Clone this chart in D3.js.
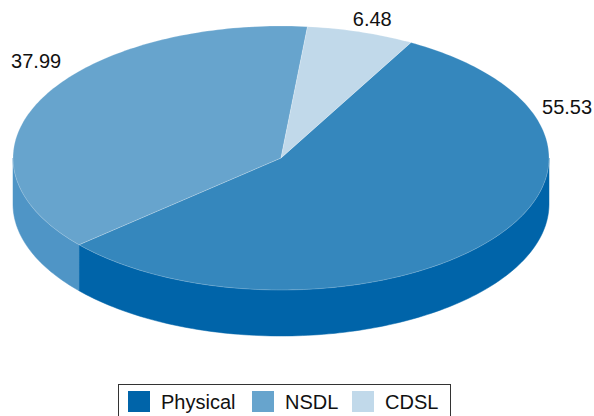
<!DOCTYPE html>
<html>
<head>
<meta charset="utf-8">
<script src="https://cdn.jsdelivr.net/npm/d3@7/dist/d3.min.js"></script>
<style>
  html, body { margin: 0; padding: 0; background: #fff; }
  svg { display: block; font-family: "Liberation Sans", Arial, Helvetica, sans-serif; }
</style>
</head>
<body>
<svg id="chart" width="594" height="416"></svg>
<script>
// Share of holdings by mode
const categories = ["Physical", "NSDL", "CDSL"];
const values = [55.53, 37.99, 6.48];
const labels = ["55.53", "37.99", "6.48"];

// Colours: top face, side wall, legend swatch
const topColors = ["#3587bd", "#67a4cd", "#c1d9ea"];
const sideColors = ["#0064a9", "#4f95c6", "#a9c9e0"];
const legendColors = ["#0064a9", "#67a4cd", "#c1d9ea"];

// Layout of the tilted disc
const cx = 281, cy = 158, rx = 268, ry = 132, depth = 46;
const startDeg = 29;
// Label baselines as fractions of the radii from the centre
const labelPlace = [
  { kx: 0.974,  ky: -0.333 },
  { kx: -1.007, ky: -0.682 },
  { kx: 0.268,  ky: -1.0 }
];

const svg = d3.select("#chart");
const topColor = d3.scaleOrdinal().domain(categories).range(topColors);
const sideColor = d3.scaleOrdinal().domain(categories).range(sideColors);
const legendColor = d3.scaleOrdinal().domain(categories).range(legendColors);

const pie = d3.pie().sort(null).value(d => d.value)
  .startAngle(startDeg * Math.PI / 180)
  .endAngle(startDeg * Math.PI / 180 + 2 * Math.PI);

const data = categories.map((c, i) => ({ cat: c, value: values[i], label: labels[i], i }));
const arcs = pie(data);

// point on the ellipse for a pie angle (clockwise from 12 o'clock)
const px = (a) => cx + rx * Math.sin(a);
const py = (a, dy = 0) => cy - ry * Math.cos(a) + dy;

function topPath(a0, a1) {
  const n = Math.max(8, Math.ceil((a1 - a0) / 0.02));
  let p = `M${cx},${cy}`;
  for (let k = 0; k <= n; k++) {
    const a = a0 + (a1 - a0) * k / n;
    p += `L${px(a)},${py(a)}`;
  }
  return p + "Z";
}

function wallPath(a0, a1) {
  const n = Math.max(8, Math.ceil((a1 - a0) / 0.02));
  let p = "";
  for (let k = 0; k <= n; k++) {
    const a = a0 + (a1 - a0) * k / n;
    p += (k ? "L" : "M") + `${px(a)},${py(a)}`;
  }
  for (let k = n; k >= 0; k--) {
    const a = a0 + (a1 - a0) * k / n;
    p += `L${px(a)},${py(a, depth)}`;
  }
  return p + "Z";
}

// front walls: visible between 90° and 270° (and the same band shifted by a turn)
const walls = [];
arcs.forEach(d => {
  [[Math.PI / 2, 3 * Math.PI / 2], [Math.PI / 2 + 2 * Math.PI, 3 * Math.PI / 2 + 2 * Math.PI]].forEach(([lo, hi]) => {
    const a0 = Math.max(d.startAngle, lo), a1 = Math.min(d.endAngle, hi);
    if (a1 > a0) walls.push({ d, a0, a1 });
  });
});

svg.append("g").selectAll("path").data(walls).join("path")
  .attr("d", w => wallPath(w.a0, w.a1))
  .attr("fill", w => sideColor(w.d.data.cat))
  .attr("stroke", w => sideColor(w.d.data.cat))
  .attr("stroke-width", 0.5);

svg.append("g").selectAll("path").data(arcs).join("path")
  .attr("d", d => topPath(d.startAngle, d.endAngle))
  .attr("fill", d => topColor(d.data.cat))
  .attr("stroke", "#ffffff")
  .attr("stroke-opacity", 0.35)
  .attr("stroke-width", 0.6)
  .attr("stroke-linejoin", "round");

// value labels
svg.append("g").selectAll("text").data(arcs).join("text")
  .attr("x", d => cx + labelPlace[d.index].kx * rx)
  .attr("y", d => cy + labelPlace[d.index].ky * ry)
  .attr("font-size", 20)
  .attr("fill", "#111")
  .text(d => d.data.label);

// legend
const lg = svg.append("g");
const boxX = 118.5, boxY = 384.5, sw = 22, sh = 21;
const itemX = [128, 252, 352];
lg.append("rect")
  .attr("x", boxX).attr("y", boxY)
  .attr("width", 332).attr("height", 40)
  .attr("fill", "#fff").attr("stroke", "#333").attr("stroke-width", 1);
const items = lg.selectAll("g.item").data(categories).join("g").attr("class", "item")
  .attr("transform", (c, i) => `translate(${itemX[i]},391)`);
items.append("rect").attr("width", sw).attr("height", sh).attr("fill", c => legendColor(c));
items.append("text")
  .attr("x", sw + 11).attr("y", 17.5)
  .attr("font-size", 20).attr("fill", "#111")
  .text(c => c);
</script>
</body>
</html>
